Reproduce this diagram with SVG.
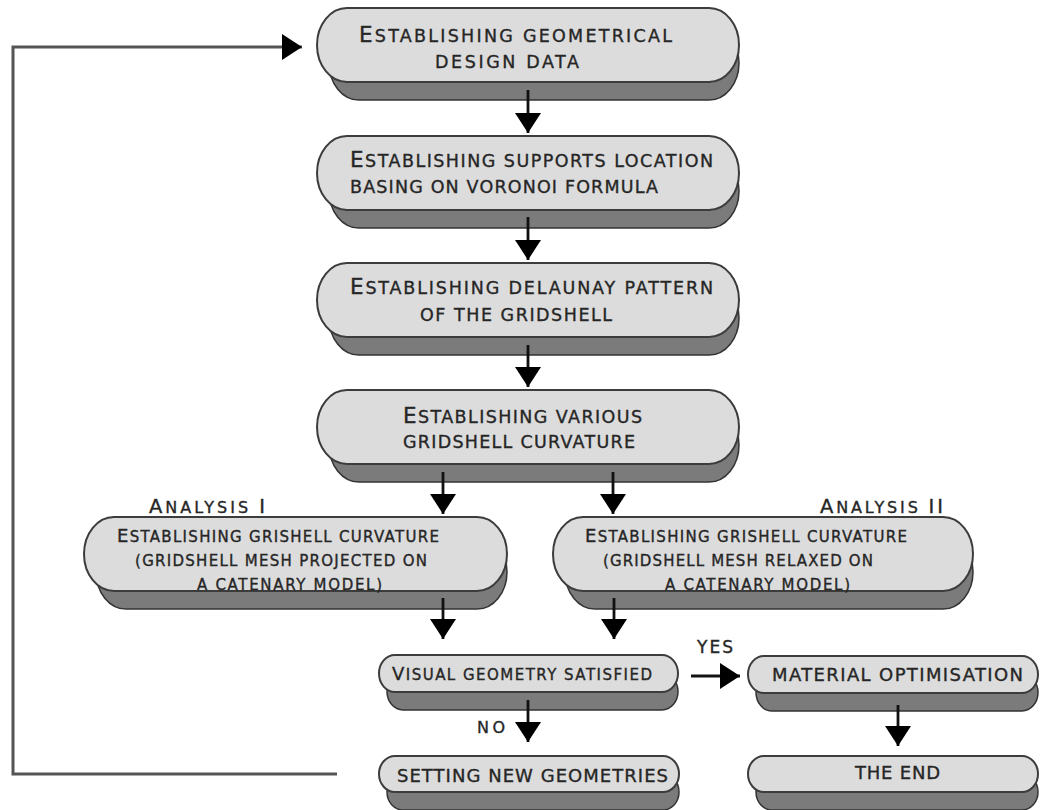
<svg xmlns="http://www.w3.org/2000/svg" width="1041" height="810" viewBox="0 0 1041 810">
<defs>
<style>
.sh{fill:#7b7b7b;stroke:#333;stroke-width:1.5}
.tp{fill:#dcdcdc;stroke:#3c3c3c;stroke-width:2}
text{font-family:"DejaVu Sans","Liberation Sans",sans-serif;fill:#262626;stroke:#262626;stroke-width:0.35}
.s{font-size:17.5px}
.b{font-size:21.5px}
.s2{font-size:15px}
.b2{font-size:18px}
.lb{font-size:16px}
.lbb{font-size:19.5px}
.m{font-size:18px}
.con{stroke:#111;stroke-width:2.8;fill:none}
.fb{stroke:#555;stroke-width:3;fill:none}
</style>
<marker id="ah" viewBox="0 0 20 26" markerWidth="20" markerHeight="26" refX="20" refY="13" orient="auto" markerUnits="userSpaceOnUse"><path d="M0,0L20,13L0,26z" fill="#000"/></marker>
</defs>
<rect width="1041" height="810" fill="#fff"/>

<g id="n1">
<rect class="sh" x="329" y="26" width="410" height="74" rx="30" ry="37"/>
<rect class="tp" x="317" y="8" width="422" height="74" rx="30" ry="37"/>
<text class="s" x="359" y="42" textLength="313" lengthAdjust="spacing"><tspan class="b">E</tspan>STABLISHING GEOMETRICAL</text>
<text class="s" x="435" y="68" textLength="144" lengthAdjust="spacing">DESIGN DATA</text>
</g>

<g id="n2">
<rect class="sh" x="329" y="154" width="410" height="74" rx="30" ry="37"/>
<rect class="tp" x="317" y="136" width="422" height="74" rx="30" ry="37"/>
<text class="s" x="350" y="167" textLength="363" lengthAdjust="spacing"><tspan class="b">E</tspan>STABLISHING SUPPORTS LOCATION</text>
<text class="s" x="350" y="193" textLength="308" lengthAdjust="spacing">BASING ON VORONOI FORMULA</text>
</g>

<g id="n3">
<rect class="sh" x="329" y="281" width="410" height="74" rx="30" ry="37"/>
<rect class="tp" x="317" y="263" width="422" height="74" rx="30" ry="37"/>
<text class="s" x="350" y="294" textLength="363" lengthAdjust="spacing"><tspan class="b">E</tspan>STABLISHING DELAUNAY PATTERN</text>
<text class="s" x="420" y="321" textLength="192" lengthAdjust="spacing">OF THE GRIDSHELL</text>
</g>

<g id="n4">
<rect class="sh" x="329" y="408" width="410" height="74" rx="30" ry="37"/>
<rect class="tp" x="317" y="390" width="422" height="74" rx="30" ry="37"/>
<text class="s" x="403" y="423" textLength="239" lengthAdjust="spacing"><tspan class="b">E</tspan>STABLISHING VARIOUS</text>
<text class="s" x="403" y="448" textLength="232" lengthAdjust="spacing">GRIDSHELL CURVATURE</text>
</g>

<g id="a1">
<text class="lb" x="149" y="513" textLength="116" lengthAdjust="spacing"><tspan class="lbb">A</tspan>NALYSIS <tspan class="lbb">I</tspan></text>
<rect class="sh" x="96" y="535" width="411" height="74" rx="30" ry="37"/>
<rect class="tp" x="84" y="517" width="423" height="74" rx="30" ry="37"/>
<text class="s2" x="117" y="542" textLength="322" lengthAdjust="spacing"><tspan class="b2">E</tspan>STABLISHING GRISHELL CURVATURE</text>
<text class="s2" x="135" y="566" textLength="292" lengthAdjust="spacing">(GRIDSHELL MESH PROJECTED ON</text>
<text class="s2" x="197" y="590" textLength="185" lengthAdjust="spacing">A CATENARY MODEL)</text>
</g>

<g id="a2">
<text class="lb" x="820" y="513" textLength="123" lengthAdjust="spacing"><tspan class="lbb">A</tspan>NALYSIS <tspan class="lbb">II</tspan></text>
<rect class="sh" x="565" y="535" width="408" height="74" rx="30" ry="37"/>
<rect class="tp" x="553" y="517" width="420" height="74" rx="30" ry="37"/>
<text class="s2" x="585" y="542" textLength="322" lengthAdjust="spacing"><tspan class="b2">E</tspan>STABLISHING GRISHELL CURVATURE</text>
<text class="s2" x="603" y="566" textLength="270" lengthAdjust="spacing">(GRIDSHELL MESH RELAXED ON</text>
<text class="s2" x="665" y="590" textLength="185" lengthAdjust="spacing">A CATENARY MODEL)</text>
</g>

<g id="visual">
<rect class="sh" x="387" y="673" width="291" height="37" rx="16" ry="18.5"/>
<rect class="tp" x="379" y="655" width="299" height="37" rx="16" ry="18.5"/>
<text class="s2" x="392" y="680" textLength="260" lengthAdjust="spacing"><tspan class="b2">V</tspan>ISUAL GEOMETRY SATISFIED</text>
</g>

<g id="material">
<rect class="sh" x="756" y="674" width="282" height="37" rx="16" ry="18.5"/>
<rect class="tp" x="748" y="656" width="290" height="37" rx="16" ry="18.5"/>
<text class="m" x="772" y="681" textLength="251" lengthAdjust="spacing">MATERIAL OPTIMISATION</text>
</g>

<g id="setting">
<rect class="sh" x="387" y="774" width="292" height="36" rx="16" ry="18"/>
<rect class="tp" x="379" y="756" width="300" height="36" rx="16" ry="18"/>
<text class="m" x="397" y="782" textLength="271" lengthAdjust="spacing">SETTING NEW GEOMETRIES</text>
</g>

<g id="end">
<rect class="sh" x="756" y="774" width="282" height="36" rx="16" ry="18"/>
<rect class="tp" x="748" y="756" width="290" height="36" rx="16" ry="18"/>
<text class="m" x="855" y="779" textLength="85" lengthAdjust="spacing">THE END</text>
</g>

<g id="connectors">
<path class="con" d="M528,90V133" marker-end="url(#ah)"/>
<path class="con" d="M528,217V260" marker-end="url(#ah)"/>
<path class="con" d="M528,345V387" marker-end="url(#ah)"/>
<path class="con" d="M443,472V514" marker-end="url(#ah)"/>
<path class="con" d="M613,472V514" marker-end="url(#ah)"/>
<path class="con" d="M443,598V639" marker-end="url(#ah)"/>
<path class="con" d="M614,598V639" marker-end="url(#ah)"/>
<path class="con" d="M691,676H740" marker-end="url(#ah)"/>
<path class="con" d="M528,700V742" marker-end="url(#ah)"/>
<path class="con" d="M898,705V746" marker-end="url(#ah)"/>
<path class="fb" d="M337,774H13V47H302" marker-end="url(#ah)"/>
<text class="m" x="697" y="653" textLength="36" lengthAdjust="spacing" style="font-size:17px">YES</text>
<text class="m" x="477" y="733" textLength="28" lengthAdjust="spacing" style="font-size:16px">NO</text>
</g>
</svg>
